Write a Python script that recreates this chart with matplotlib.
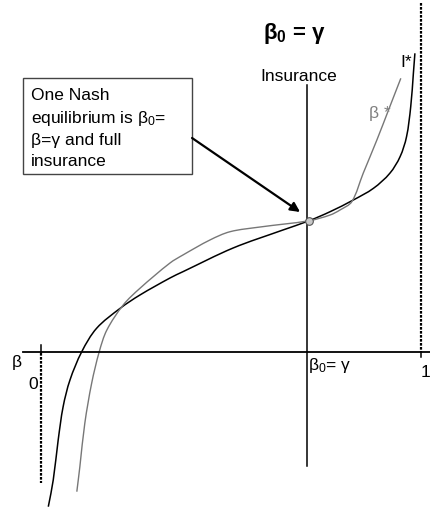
import matplotlib
matplotlib.use("Agg")
import numpy as np
import matplotlib.pyplot as plt
from matplotlib.patches import Rectangle, PathPatch
from matplotlib.path import Path

plt.rcParams['font.family'] = ['Liberation Sans', 'DejaVu Sans']
plt.rcParams['mathtext.fontset'] = 'custom'
plt.rcParams['mathtext.rm'] = 'Liberation Sans'
plt.rcParams['mathtext.it'] = 'Liberation Sans'
plt.rcParams['mathtext.bf'] = 'Liberation Sans:bold'
plt.rcParams['mathtext.default'] = 'regular'

# equilibrium point: beta_0 = gamma
gamma = 0.70
eq_beta, eq_ins = 0.706, 1.308

# I* : optimal insurance as a function of beta
i_star_beta = [0.020, 0.033, 0.046, 0.059, 0.077, 0.108, 0.147, 0.209, 0.261,
               0.340, 0.374, 0.506, 0.637, 0.706, 0.761, 0.822, 0.875, 0.918,
               0.945, 0.962, 0.973, 0.980, 0.984]
i_star_ins = [-1.552, -1.285, -0.885, -0.552, -0.285, -0.002, 0.232, 0.432, 0.565,
              0.735, 0.798, 1.035, 1.215, 1.308, 1.398, 1.515, 1.632, 1.782,
              1.948, 2.148, 2.448, 2.782, 2.982]

# beta* : best response curve
b_star_beta = [0.095, 0.103, 0.116, 0.134, 0.154, 0.174, 0.217, 0.261, 0.340,
               0.374, 0.445, 0.498, 0.577, 0.706, 0.761, 0.787, 0.818, 0.848,
               0.884, 0.918, 0.947]
b_star_ins = [-1.402, -1.152, -0.718, -0.318, -0.002, 0.215, 0.465, 0.632, 0.885,
              0.965, 1.115, 1.198, 1.245, 1.308, 1.365, 1.415, 1.498, 1.782,
              2.115, 2.448, 2.732]


def smooth_path(ax, xs, ys, **kw):
    # chord-length cubic Hermite through the points, as Bezier segments in pixels
    pts = ax.transData.transform(np.column_stack([xs, ys]))
    seg = np.linalg.norm(np.diff(pts, axis=0), axis=1)
    t = np.concatenate([[0], np.cumsum(seg)])
    n = len(pts)
    tan = np.zeros_like(pts)
    for i in range(n):
        a, b = max(i - 1, 0), min(i + 1, n - 1)
        tan[i] = (pts[b] - pts[a]) / (t[b] - t[a])
    verts = [pts[0]]
    codes = [Path.MOVETO]
    for i in range(n - 1):
        h = seg[i] / 3
        verts += [pts[i] + tan[i] * h, pts[i + 1] - tan[i + 1] * h, pts[i + 1]]
        codes += [Path.CURVE4] * 3
    verts = ax.transData.inverted().transform(np.array(verts))
    ax.add_patch(PathPatch(Path(verts, codes), fill=False, **kw))


fig = plt.figure(figsize=(4.3, 5.08), dpi=100)
ax = fig.add_axes([0, 0, 1, 1])
ax.set_xlim(-0.107, 1.0237)
ax.set_ylim(-1.565, 3.515)
ax.axis('off')

# axes
ax.plot([-0.047, 1.03], [0, 0], color='black', lw=1.3)
ax.plot([gamma, gamma], [-1.145, 2.665], color='black', lw=1.1)

# bounds at beta = 0 and beta = 1
ax.plot([0, 0], [0.065, -0.015], color='black', lw=1.1)
ax.plot([0, 0], [-0.015, -1.315], color='black', lw=1.6, ls=(0, (1.2, 0.6)))
ax.plot([1, 1], [3.485, 0], color='black', lw=1.6, ls=(0, (1.2, 0.6)))
ax.plot([1, 1], [0, -0.055], color='black', lw=1.1)

# curves
smooth_path(ax, i_star_beta, i_star_ins, edgecolor='black', lw=1.1)
smooth_path(ax, b_star_beta, b_star_ins, edgecolor='#777777', lw=1.0)
ax.plot(eq_beta, eq_ins, 'o', ms=5.5, mfc='#c8c8c8', mec='#555555', mew=0.8)

# labels
ax.text(0.666, 3.185, r'$\mathbf{\beta_0}$' + ' = ' + r'$\mathbf{\gamma}$',
        ha='center', va='center', fontsize=16, fontweight='bold')
ax.text(0.679, 2.755, 'Insurance', ha='center', va='center', fontsize=12.5)
ax.text(0.962, 2.895, 'I*', ha='center', va='center', fontsize=12.5)
ax.text(0.892, 2.385, 'β *', ha='center', va='center', fontsize=12.5,
        color='#808080')
ax.text(-0.062, -0.115, 'β', ha='center', va='center', fontsize=12.5)
ax.text(-0.019, -0.33, '0', ha='center', va='center', fontsize=12.5)
ax.text(0.703, -0.14, r'$\beta_0$= γ', ha='left', va='center', fontsize=12.5)
ax.text(1.011, -0.21, '1', ha='center', va='center', fontsize=12.5)

# annotation box
ax.add_patch(Rectangle((-0.047, 1.775), 0.445, 0.957, fill=False,
                       edgecolor='#444444', lw=1.0))
box_lines = ['One Nash', r'equilibrium is $\beta_0$=', 'β=γ and full', 'insurance']
box_base = [2.515, 2.29, 2.065, 1.855]
for line, yb in zip(box_lines, box_base):
    ax.text(-0.026, yb, line, ha='left', va='baseline', fontsize=12.5)

ax.annotate('', xy=(0.682, 1.395), xytext=(0.398, 2.135),
            arrowprops=dict(arrowstyle='-|>', lw=1.6, color='black',
                            mutation_scale=14, shrinkA=0, shrinkB=0))

fig.savefig('out.png', dpi=100)
